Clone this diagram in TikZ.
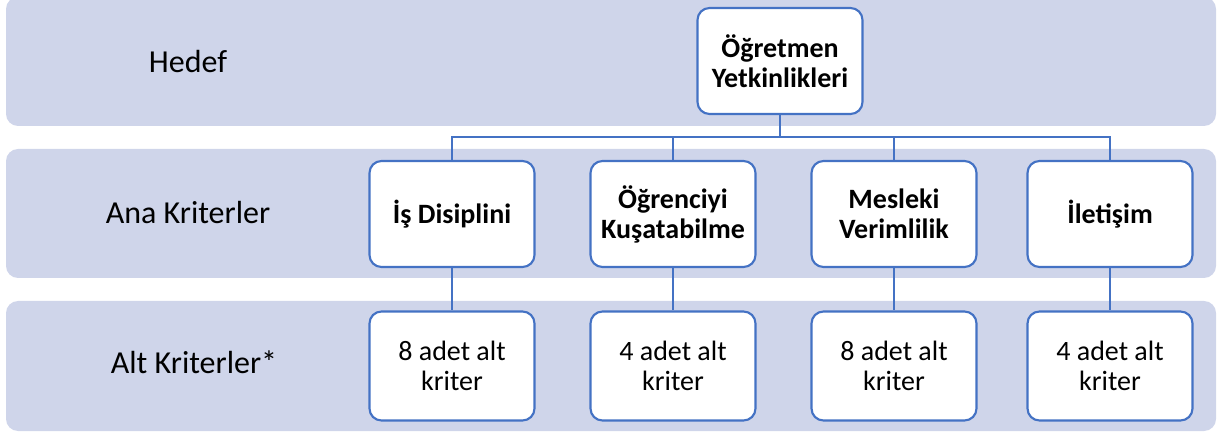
\documentclass[tikz,border=0pt]{standalone}
\usepackage{fontspec}
\setmainfont{Carlito}
\definecolor{bandfill}{RGB}{207,213,234}
\definecolor{boxline}{RGB}{68,114,196}
\tikzset{
  band/.style={fill=bandfill, rounded corners=9pt},
  rowlabel/.style={font=\fontsize{24}{28}\selectfont, inner sep=0.75pt},
  critbox/.style={draw=boxline, line width=1.6pt, fill=white, rounded corners=9pt,
    minimum width=123.75pt, minimum height=79.5pt, align=center, inner sep=0.75pt,
    font=\fontsize{21}{22.5}\selectfont\bfseries},
  subbox/.style={critbox, minimum height=81.75pt, font=\fontsize{21}{22.5}\selectfont},
  link/.style={draw=boxline, line width=1.5pt}
}

\begin{document}
\begin{tikzpicture}[x=0.75pt,y=0.75pt,yscale=-1,xscale=1]
\useasboundingbox (0,0) rectangle (1217,434);

%Shape: Bands
\fill[band] (6,-3) rectangle (1216,126);
\fill[band] (6,149) rectangle (1216,278);
\fill[band] (6,301) rectangle (1216,431);

% Text Node
\node[rowlabel] (hedef) at (188,62) {Hedef};
% Text Node
\node[rowlabel] (ana) at (188,213) {Ana Kriterler};
% Text Node
\node[rowlabel] (alt) at (194,362) {Alt Kriterler*};

%Shape: Goal box
\node[critbox] (ogretmen) at (780,61) {Öğretmen\\Yetkinlikleri};

%Shape: Main criteria
\node[critbox] (is) at (452,214) {İş Disiplini};
\node[critbox] (kusat) at (673,214) {Öğrenciyi\\Kuşatabilme};
\node[critbox] (mesleki) at (894,214) {Mesleki\\Verimlilik};
\node[critbox] (iletisim) at (1110,214) {İletişim};

%Shape: Sub criteria
\node[subbox] (alt1) at (452,366) {8 adet alt\\kriter};
\node[subbox] (alt2) at (673,366) {4 adet alt\\kriter};
\node[subbox] (alt3) at (894,366) {8 adet alt\\kriter};
\node[subbox] (alt4) at (1110,366) {4 adet alt\\kriter};

%Straight Lines
\coordinate (bus) at (780,137);
\draw[link, line width=2pt] (ogretmen.south) -- (bus);
\draw[link] (bus) -| (is.north);
\draw[link] (bus) -| (kusat.north);
\draw[link] (bus) -| (mesleki.north);
\draw[link] (bus) -| (iletisim.north);

\draw[link] (is.south) -- (alt1.north);
\draw[link] (kusat.south) -- (alt2.north);
\draw[link] (mesleki.south) -- (alt3.north);
\draw[link] (iletisim.south) -- (alt4.north);

\end{tikzpicture}
\end{document}
